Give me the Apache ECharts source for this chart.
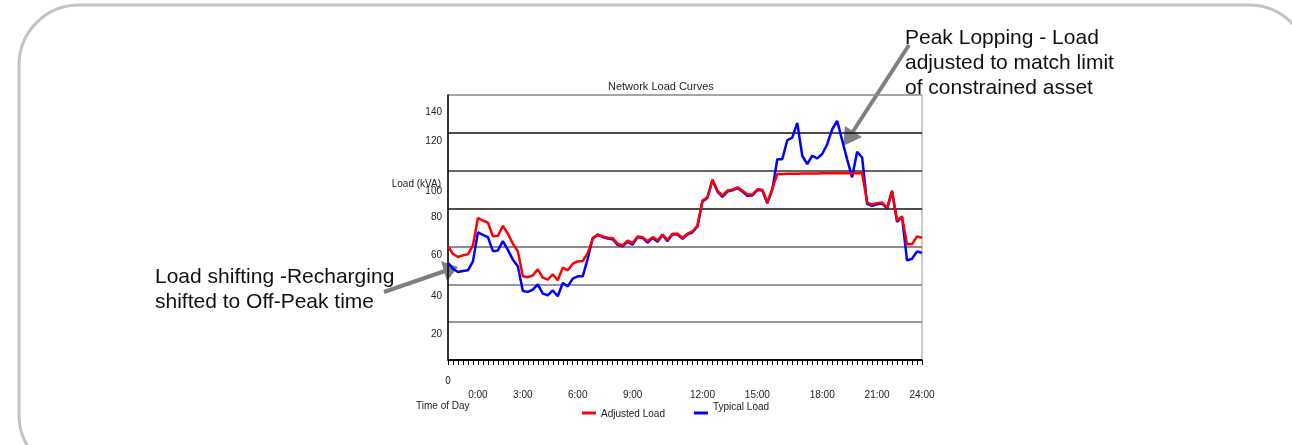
<!DOCTYPE html>
<html>
<head>
<meta charset="utf-8">
<script src="https://cdn.jsdelivr.net/npm/echarts@6/dist/echarts.min.js"></script>
<style>
html, body { margin: 0; padding: 0; background: #fff; }
#chart { width: 1292px; height: 445px; }
</style>
</head>
<body>
<div id="chart"></div>
<script>
// 15-minute samples
var adjustedLoad = [
	60, 56, 54.4, 55.3, 55.8, 60.5, 75, 73.7, 72.6, 65.4,
	65.6, 70.9, 66.7, 61.4, 57.5, 44.2, 43.7, 44.7, 47.9, 43.5,
	42.5, 45.3, 42.1, 48.8, 47.4, 50.9, 52.1, 52.3, 56.5, 63.9,
	66.3, 65.3, 64.6, 64.4, 61.5, 60.5, 63, 61.8, 65.3, 64.9,
	62.8, 64.9, 63.2, 66.3, 63.5, 66.7, 66.7, 64.6, 66.7, 67.9,
	71, 84.2, 86, 95.3, 89.5, 86.8, 89.5, 90, 91.2, 89.5,
	87.4, 87.4, 90.2, 90, 83.3, 90.4, 98.3, 98.3, 98.4, 98.4,
	98.4, 98.5, 98.5, 98.5, 98.5, 98.6, 98.6, 98.6, 98.6, 98.7,
	98.7, 98.7, 98.7, 98.7, 83.3, 82.1, 82.8, 83.2, 80.4, 89.5,
	73.7, 75.8, 61.1, 61.1, 65.3, 64.6
];
var typicalLoad = [
	51.4, 48.2, 46.5, 47, 47.4, 52.1, 67.4, 66.1, 64.9, 57.5,
	57.9, 62.8, 58.2, 53, 49.5, 36.5, 36, 37.2, 40, 35.1,
	34.2, 36.8, 33.7, 40.7, 38.9, 43, 44.2, 44.2, 53.5, 64.4,
	66.1, 65, 64.2, 63.8, 60.8, 60, 62.4, 61, 65, 64.5,
	62, 64.5, 62.5, 66, 62.8, 66.4, 66.3, 64, 66.4, 67.5,
	70.6, 83.8, 85.6, 95, 89, 86.2, 89, 89.6, 90.8, 89,
	86.8, 86.9, 89.8, 89.6, 82.8, 90, 106.1, 106.1, 116.1, 117.5,
	125.3, 107.9, 103.5, 107.9, 106.5, 108.8, 114, 121.9, 126.3, 116,
	106, 96.5, 110, 107, 82.5, 81.5, 82.3, 82.7, 80, 89,
	73, 75.5, 52.6, 53.5, 57.4, 56.5
];
// x labels and the sample each sits under (they are unevenly placed in the original)
var timeLabels = ['0', '0:00', '3:00', '6:00', '9:00', '12:00', '15:00', '18:00', '21:00', '24:00'];
var timeLabelIdx = [0, 6, 15, 26, 37, 51, 62, 75, 86, 95];
var yTicks = [20, 40, 60, 80, 100, 120, 140];

var categories = [];
for (var i = 0; i < adjustedLoad.length; i++) categories.push(String(i));

// uneven vertical shift of y labels, as in the source picture
var yShift = {140: 35, 120: 17, 100: 41, 80: 17, 60: 17, 40: 23, 20: 24};
var font = 'Liberation Sans';
var yRich = {};
yTicks.forEach(function(v) {
	yRich['y' + v] = { padding: [yShift[v], 0, 0, 0], fontSize: 10, color: '#222', fontFamily: font };
});

var chart = echarts.init(document.getElementById('chart'));
chart.setOption({
	backgroundColor: '#fff',
	animation: false,
	title: {
		text: 'Network Load Curves',
		left: 603, top: 76,
		textStyle: { fontSize: 11, fontWeight: 'normal', color: '#222', fontFamily: font }
	},
	legend: {
		data: ['Adjusted Load', 'Typical Load'],
		left: 577, top: 397,
		icon: 'rect', itemWidth: 14, itemHeight: 3, itemGap: 29,
		textStyle: {
			fontSize: 10, color: '#222', fontFamily: font,
			rich: {
				dn: { fontSize: 10, color: '#222', fontFamily: font, padding: [3, 0, 0, 0] },
				up: { fontSize: 10, color: '#222', fontFamily: font, padding: [0, 0, 12, 0] }
			}
		},
		formatter: function(name) {
			return name === 'Typical Load' ? '{up|' + name + '}' : '{dn|' + name + '}';
		}
	},
	grid: {
		left: 448, right: 370, top: 95, bottom: 85,
		show: true, borderColor: '#999', borderWidth: 1
	},
	xAxis: {
		type: 'category',
		data: categories,
		boundaryGap: false,
		axisLine: { lineStyle: { color: '#000', width: 1.5 } },
		axisTick: { interval: 0, length: 5, lineStyle: { color: '#000' } },
		axisLabel: {
			interval: function(index) { return timeLabelIdx.indexOf(index) >= 0; },
			formatter: function(value, index) {
				var k = timeLabelIdx.indexOf(index);
				return k === 0 ? '{z|' + timeLabels[k] + '}' : (k > 0 ? timeLabels[k] : '');
			},
			verticalAlign: 'bottom',
			margin: 40, fontSize: 10, color: '#222', fontFamily: font,
			rich: { z: { fontSize: 10, color: '#222', fontFamily: font, padding: [0, 0, 14, 0] } }
		}
	},
	yAxis: {
		type: 'value',
		min: 0, max: 140, interval: 20,
		axisLine: { show: true, lineStyle: { color: '#000', width: 1.5 } },
		axisTick: { show: false },
		axisLabel: {
			margin: 6,
			formatter: function(v) { return v === 0 ? '' : '{y' + v + '|' + v + '}'; },
			rich: yRich
		},
		splitLine: { lineStyle: { color: ['#000', '#777', '#777', '#666', '#111', '#333', '#111', '#999'], width: 1.5 } }
	},
	series: [
		{
			name: 'Typical Load', type: 'line', data: typicalLoad,
			symbol: 'none', lineStyle: { color: '#0000ff', width: 2.5 }, itemStyle: { color: '#0000ff' }
		},
		{
			name: 'Adjusted Load', type: 'line', data: adjustedLoad,
			symbol: 'none', lineStyle: { color: '#ff0000', width: 2.5 }, itemStyle: { color: '#ff0000' }
		}
	],
	graphic: [
		{ type: 'rect', shape: { x: 19, y: 5, width: 1290, height: 470, r: 60 }, style: { fill: 'none', stroke: '#c4c4c4', lineWidth: 3 }, z: -1 },
		{ type: 'text', x: 441, y: 184, style: { text: 'Load (kVA)', fontSize: 10, fill: '#222', fontFamily: font, align: 'right', verticalAlign: 'middle' } },
		{ type: 'text', x: 416, y: 406, style: { text: 'Time of Day', fontSize: 10, fill: '#222', fontFamily: font, verticalAlign: 'middle' } },
		{ type: 'text', x: 905, y: 26, style: { text: 'Peak Lopping - Load\nadjusted to match limit\nof constrained asset', fontSize: 21, lineHeight: 25, fill: '#111', fontFamily: font } },
		{ type: 'text', x: 155, y: 265, style: { text: 'Load shifting -Recharging\nshifted to Off-Peak time', fontSize: 21, lineHeight: 25, fill: '#111', fontFamily: font } },
		{ type: 'line', shape: { x1: 909, y1: 45, x2: 852, y2: 133 }, style: { stroke: '#808080', lineWidth: 4 } },
		{ type: 'polygon', shape: { points: [[843, 146], [845, 126], [862, 137]] }, style: { fill: '#808080' } },
		{ type: 'line', shape: { x1: 384, y1: 292, x2: 445, y2: 271 }, style: { stroke: '#808080', lineWidth: 4 } },
		{ type: 'polygon', shape: { points: [[458, 267], [441, 261], [447, 281]] }, style: { fill: '#808080' } }
	]
});
</script>
</body>
</html>
